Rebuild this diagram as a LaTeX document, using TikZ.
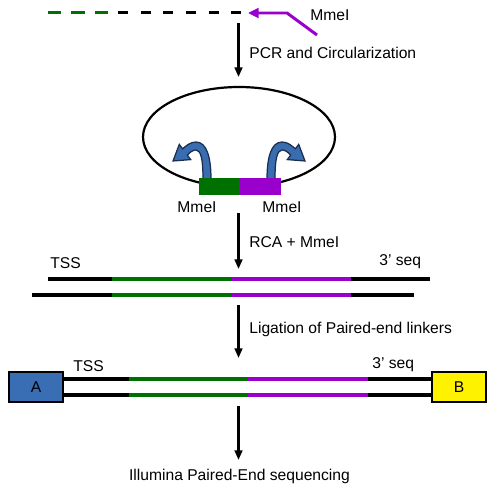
\documentclass[tikz,border=0pt]{standalone}
\usepackage{fontspec}
\setmainfont{Liberation Sans}
\usetikzlibrary{positioning, arrows.meta}
\definecolor{tagGreen}{RGB}{0,112,0}
\definecolor{tagPurple}{RGB}{153,0,204}
\definecolor{cutBlue}{RGB}{58,108,176}
\definecolor{cutEdge}{RGB}{25,45,80}
\definecolor{adaptBlue}{RGB}{58,110,180}
\tikzset{
    lbl/.style={
        font=\fontsize{8.9}{10.7}\selectfont,
        inner sep=0pt
    },
    flow/.style={
        -{Triangle[length=5.5pt, width=4.4pt]},
        line width=1.25pt
    },
    strand/.style={line width=1.9pt},
    tagbox/.style={
        minimum height=0.34cm,
        inner sep=0pt
    },
    adapter/.style={
        draw,
        line width=1.1pt,
        minimum width=1.08cm,
        minimum height=0.6cm,
        inner sep=0pt,
        font=\fontsize{8.9}{10.7}\selectfont
    },
    cutarrow/.pic={
        \filldraw[fill=cutBlue, draw=cutEdge, line width=0.7pt]
            (211,179) .. controls (211,158) and (207,142) .. (196,142)
            .. controls (190,142) and (186,146) .. (182.6,148.8)
            -- (179.3,144.4) -- (173,161) -- (190.7,159.6) -- (187.4,155.2)
            .. controls (190,152) and (193,150) .. (196,150)
            .. controls (201,150) and (203,160) .. (203,179) -- cycle;
    }
}

\begin{document}
\begin{tikzpicture}[x=0.02cm, y=-0.02cm]
        \useasboundingbox (0,0) rectangle (500,500);

        % tag with MmeI site
        \draw[tagGreen, line width=1.7pt, dash pattern=on 7.6pt off 5.7pt] (48,12.5) -- (108,12.5);
        \draw[line width=1.7pt, dash pattern=on 5.7pt off 7.2pt] (118,12.5) -- (243,12.5);
        \node[lbl, anchor=west] (site) at (310,15) {MmeI};
        \coordinate (siteTail) at (317,35);
        \coordinate (siteBend) at (287,13);
        \coordinate (siteTip) at (248,13);
        \draw[tagPurple, line width=1.7pt, -{Triangle[length=6pt, width=5.5pt]}] (siteTail) -- (siteBend) -- (siteTip);

        \coordinate (s1) at (238.5,23);
        \coordinate (e1) at (238.5,77);
        \draw[flow] (s1) -- (e1);
        \node[lbl, anchor=west] (pcr) at (249,53) {PCR and Circularization};

        % circle
        \draw[line width=1.25pt] (239,137) ellipse [x radius=96, y radius=50];
        \pic at (0,0) {cutarrow};
        \pic[xscale=-1] at (478,0) {cutarrow};
        \node[tagbox, fill=tagGreen, minimum width=0.8cm, anchor=east] (mmeG) at (239,186.5) {};
        \node[tagbox, fill=tagPurple, minimum width=0.84cm, anchor=west] (mmeP) at (239,186.5) {};
        \node[lbl] (cutG) at (197,207) {MmeI};
        \node[lbl] (cutP) at (282,207) {MmeI};

        \coordinate (s2) at (238.5,213);
        \coordinate (e2) at (238.5,269);
        \draw[flow] (s2) -- (e2);
        \node[lbl, anchor=west] (rca) at (249,242) {RCA + MmeI};

        % paired tags
        \foreach \y/\xa/\xb in {279/48/430, 295/32/414} {
            \draw[strand] (\xa,\y) -- (112,\y);
            \draw[strand, tagGreen] (112,\y) -- (232,\y);
            \draw[strand, tagPurple] (232,\y) -- (351,\y);
            \draw[strand] (351,\y) -- (\xb,\y);
        }
        \node[lbl, anchor=west] (tss1) at (50,263) {TSS};
        \node[lbl, anchor=west] (seq1) at (379,262) {3’ seq};

        \coordinate (s3) at (238.5,305);
        \coordinate (e3) at (238.5,358);
        \draw[flow] (s3) -- (e3);
        \node[lbl, anchor=west] (lig) at (249,329) {Ligation of Paired-end linkers};

        % with linkers
        \node[adapter, fill=adaptBlue] (A) at (36,387) {A};
        \node[adapter, fill=yellow] (B) at (459,387) {B};
        \foreach \s in {0.16cm,-0.16cm} {
            \draw[strand] ([yshift=\s]A.east) -- ([yshift=\s]B.west);
            \draw[strand, tagGreen] ([yshift=\s]A.east) ++(65,0) -- ++(119,0);
            \draw[strand, tagPurple] ([yshift=\s]A.east) ++(184,0) -- ++(120,0);
        }
        \node[adapter, fill=adaptBlue] at (A) {A};
        \node[adapter, fill=yellow] at (B) {B};
        \node[lbl, anchor=west] (tss2) at (73,366) {TSS};
        \node[lbl, anchor=west] (seq2) at (372,365) {3’ seq};

        \coordinate (s4) at (238.5,406);
        \coordinate (e4) at (238.5,460);
        \draw[flow] (s4) -- (e4);
        \node[lbl] (illumina) at (239.5,476) {Illumina Paired-End sequencing};
    \end{tikzpicture}
\end{document}
